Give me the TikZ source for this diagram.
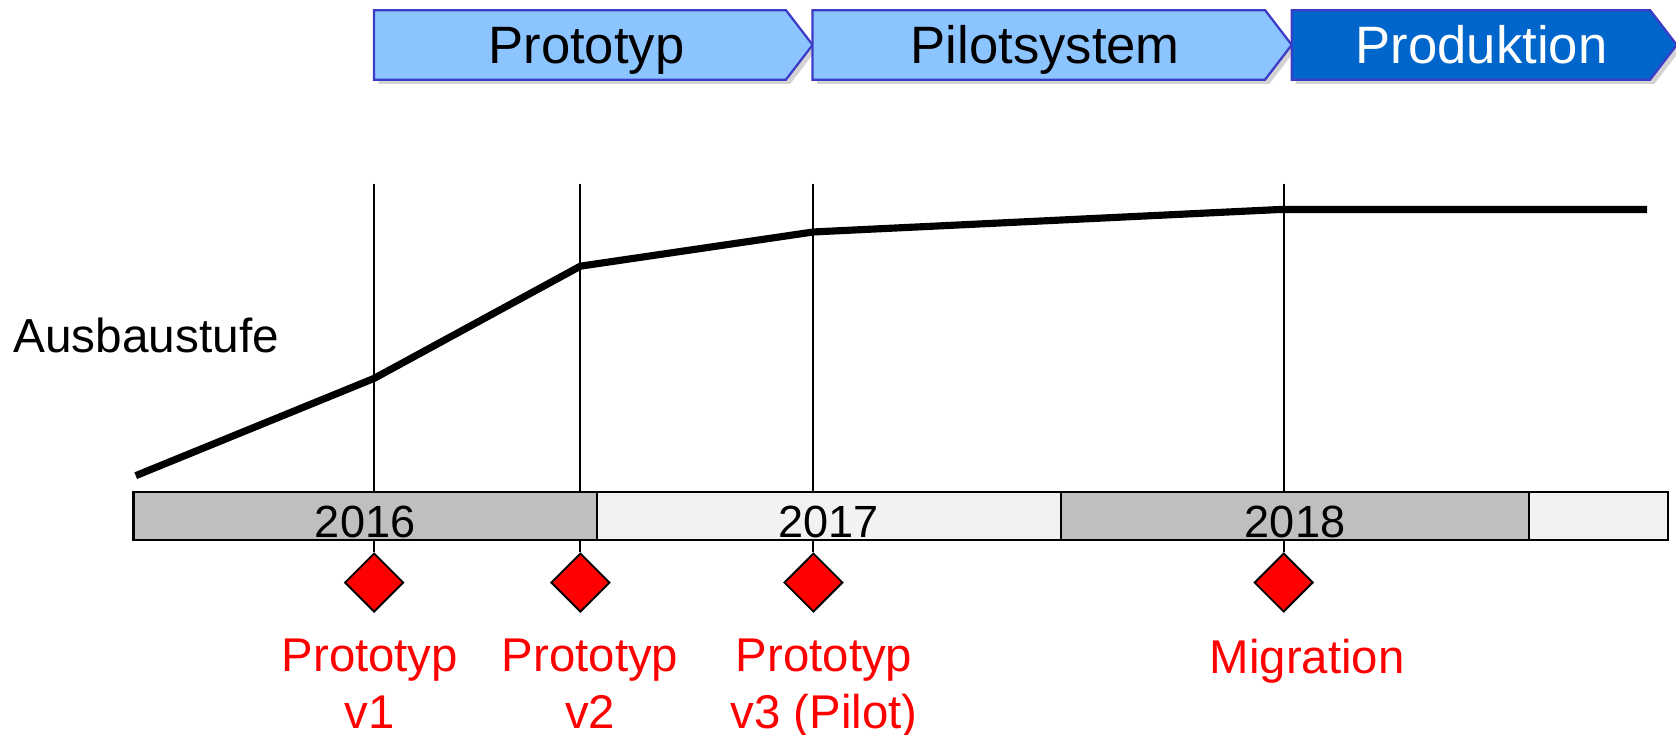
\documentclass[tikz,border=0pt]{standalone}
\usepackage{fontspec}
\setmainfont{Liberation Sans}
\usetikzlibrary{positioning,shapes.symbols,shapes.geometric,shadows}
\definecolor{phaselight}{RGB}{140,196,255}
\definecolor{phasedark}{RGB}{0,102,204}
\definecolor{phaseborder}{RGB}{60,60,200}
\definecolor{yeardark}{RGB}{191,191,191}
\definecolor{yearlight}{RGB}{242,242,242}

\begin{document}
\begin{tikzpicture}[x=0.01cm, y=-0.01cm,
    phase/.style={signal, signal to=east, signal pointer angle=105, draw=phaseborder, fill=phaselight,
      line width=0.6pt, minimum height=0.65cm, inner sep=0pt, outer sep=0pt, anchor=west,
      text depth=0pt, font=\fontsize{14}{17}\selectfont,
      drop shadow={shadow xshift=0.4mm, shadow yshift=-0.4mm, opacity=0.35}},
    yearbox/.style={draw, line width=0.6pt, minimum height=0.45cm, inner sep=0pt, outer sep=0pt,
      anchor=north west},
    yeartext/.style={anchor=base, font=\fontsize{12}{14}\selectfont},
    guide/.style={line width=0.5pt},
    ausbau/.style={line width=1.9pt},
    milestone/.style={diamond, draw, fill=red, line width=0.5pt, minimum width=0.55cm,
      minimum height=0.55cm, inner sep=0pt},
    mslabel/.style={text=red, align=center, inner sep=0pt, font=\fontsize{12.6}{15}\selectfont}]
  \useasboundingbox (0,0) rectangle (1568,687);

  % phases on top
  \node[phase, minimum width=4.1cm] (proto) at (350,42) {\hspace{0.12cm}Prototyp};
  \node[phase, minimum width=4.48cm] (pilot) at (proto.east) {\hspace{0.12cm}Pilotsystem};
  \node[phase, minimum width=3.6cm, fill=phasedark, text=white] (prod) at (pilot.east) {\hspace{0.2cm}Produktion};

  % milestones
  \node[milestone] (d1) at (350,545) {};
  \node[milestone] (d2) at (543,545) {};
  \node[milestone] (d3) at (761,545) {};
  \node[milestone] (d4) at (1201,545) {};

  % guide lines
  \coordinate (g1) at (350,172);
  \coordinate (g2) at (543,172);
  \coordinate (g3) at (761,172);
  \coordinate (g4) at (1201,172);
  \draw[guide] (g1) -- (d1.north);
  \draw[guide] (g2) -- (d2.north);
  \draw[guide] (g3) -- (d3.north);
  \draw[guide] (g4) -- (d4.north);

  % years
  \node[yearbox, fill=yeardark, minimum width=4.33cm] (y2016) at (125,460) {};
  \node[yearbox, fill=yearlight, minimum width=4.34cm] (y2017) at (y2016.north east) {};
  \node[yearbox, fill=yeardark, minimum width=4.38cm] (y2018) at (y2017.north east) {};
  \node[yearbox, fill=yearlight, minimum width=1.3cm] (y2019) at (y2018.north east) {};
  \node[yeartext] (t2016) at ([yshift=0.02cm]y2016.south) {2016};
  \node[yeartext] (t2017) at ([yshift=0.02cm]y2017.south) {2017};
  \node[yeartext] (t2018) at ([yshift=0.02cm]y2018.south) {2018};

  % ausbaustufe
  \node[anchor=west, inner sep=0pt, font=\fontsize{12.7}{15}\selectfont] (ausbau) at (12,314) {Ausbaustufe};
  \coordinate (s0) at (127,445);
  \coordinate (s1) at (350,354);
  \coordinate (s2) at (543,249);
  \coordinate (s3) at (761,217);
  \coordinate (s4) at (1197,196);
  \coordinate (s5) at (1541,196);
  \draw[ausbau] (s0) -- (s1) -- (s2) -- (s3) -- (s4) -- (s5);

  % labels
  \node[mslabel, below=0.24cm of d1, xshift=-0.04cm] (l1) {Prototyp\\v1};
  \node[mslabel, below=0.24cm of d2, xshift=0.09cm] (l2) {Prototyp\\v2};
  \node[mslabel, below=0.24cm of d3, xshift=0.1cm] (l3) {Prototyp\\v3 (Pilot)};
  \node[mslabel, below=0.24cm of d4, xshift=0.22cm] (l4) {Migration};
\end{tikzpicture}
\end{document}
